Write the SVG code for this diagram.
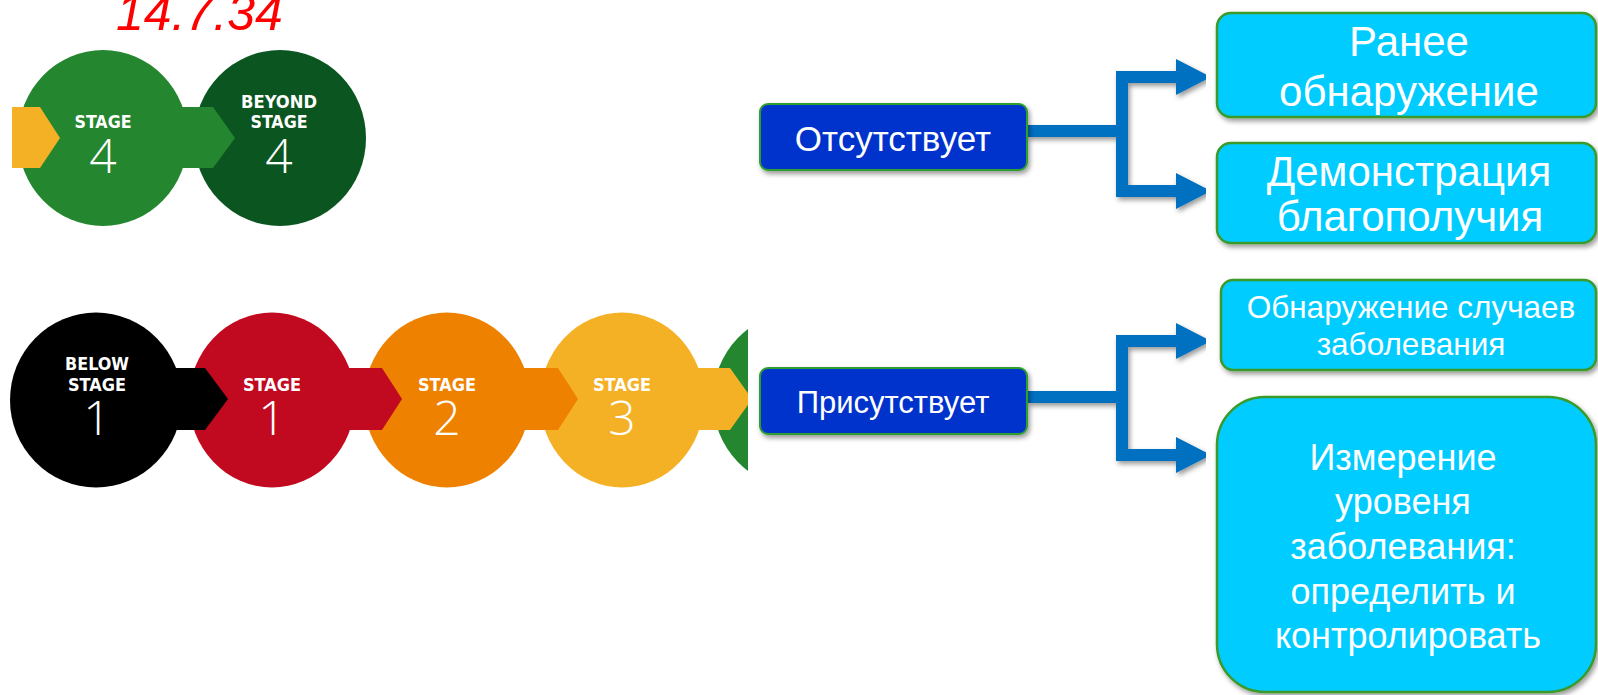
<svg xmlns="http://www.w3.org/2000/svg" width="1598" height="695" viewBox="0 0 1598 695">
<defs>
<style>
.lbl{font-family:"DejaVu Sans Condensed","DejaVu Sans",sans-serif;font-weight:bold;font-size:18px;fill:#fff;text-anchor:middle}
.num{font-family:"Open Sans","DejaVu Sans",sans-serif;font-weight:300;font-size:48px;fill:#fff;text-anchor:middle}
.dark{fill:#0033CC;stroke:#2E9E2E;stroke-width:2}
.light{fill:#00CCFF;stroke:#3A9A2A;stroke-width:2.5}
.t{font-family:"Liberation Sans",Arial,sans-serif;fill:#fff;text-anchor:middle}
.conn{fill:none;stroke:#0070C0;stroke-width:12;stroke-linejoin:miter}
</style>
<filter id="sh" x="-10%" y="-10%" width="130%" height="140%">
<feDropShadow dx="2" dy="3" stdDeviation="2.5" flood-color="#000" flood-opacity="0.4"/>
</filter>
<marker id="ah" markerUnits="userSpaceOnUse" markerWidth="36" markerHeight="36" refX="0" refY="18" orient="auto" viewBox="0 0 35 36">
<path d="M0,0 L35,18 L0,36 Z" fill="#0070C0"/>
</marker>
<clipPath id="clipBottom"><rect x="0" y="300" width="748" height="200"/></clipPath>
<clipPath id="clipTop"><rect x="12" y="40" width="360" height="200"/></clipPath>
</defs>
<rect width="1598" height="695" fill="#fff"/>

<text x="116" y="30" font-family="'Liberation Sans',Arial,sans-serif" font-style="italic" font-size="50" fill="#FF0000">14.7.34</text>

<g id="top-stages" clip-path="url(#clipTop)">
<ellipse cx="103" cy="138" rx="85" ry="88" fill="#24862F"/>
<ellipse cx="280" cy="138" rx="86" ry="88" fill="#0B5520"/>
<polygon points="0,107 40,107 60,138 40,168 0,168" fill="#F5B125"/>
<polygon points="180,107 213,107 235,138 213,168 180,168" fill="#24862F"/>
<text class="lbl" x="103" y="128" textLength="57" lengthAdjust="spacingAndGlyphs">STAGE</text>
<text class="num" x="103" y="173">4</text>
<text class="lbl" x="279" y="108" textLength="76" lengthAdjust="spacingAndGlyphs">BEYOND</text>
<text class="lbl" x="279" y="128" textLength="57" lengthAdjust="spacingAndGlyphs">STAGE</text>
<text class="num" x="279" y="173">4</text>
</g>

<g id="bottom-stages" clip-path="url(#clipBottom)">
<ellipse cx="96" cy="400" rx="86" ry="87.5" fill="#000"/>
<ellipse cx="272" cy="400" rx="83" ry="87.5" fill="#C10A1F"/>
<ellipse cx="447" cy="400" rx="83" ry="87.5" fill="#EE8200"/>
<ellipse cx="622" cy="400" rx="82" ry="87.5" fill="#F5B125"/>
<ellipse cx="797" cy="400" rx="84" ry="87.5" fill="#24862F"/>
<polygon points="170,368 205,368 228,399 205,430 170,430" fill="#000"/>
<polygon points="345,368 382,368 402,399 382,430 345,430" fill="#C10A1F"/>
<polygon points="520,368 558,368 578,399 558,430 520,430" fill="#EE8200"/>
<polygon points="695,368 730,368 752,399 730,430 695,430" fill="#F5B125"/>
<text class="lbl" x="97" y="370" textLength="64" lengthAdjust="spacingAndGlyphs">BELOW</text>
<text class="lbl" x="97" y="391" textLength="58" lengthAdjust="spacingAndGlyphs">STAGE</text>
<text class="num" x="97" y="435">1</text>
<text class="lbl" x="272" y="391" textLength="58" lengthAdjust="spacingAndGlyphs">STAGE</text>
<text class="num" x="272" y="435">1</text>
<text class="lbl" x="447" y="391" textLength="58" lengthAdjust="spacingAndGlyphs">STAGE</text>
<text class="num" x="447" y="435">2</text>
<text class="lbl" x="622" y="391" textLength="58" lengthAdjust="spacingAndGlyphs">STAGE</text>
<text class="num" x="622" y="435">3</text>
</g>

<g id="connectors" filter="url(#sh)">
<path class="conn" d="M1027,131 H1122"/>
<path class="conn" d="M1122,131 V77 H1176" marker-end="url(#ah)"/>
<path class="conn" d="M1122,131 V191 H1176" marker-end="url(#ah)"/>
<path class="conn" d="M1027,397 H1122"/>
<path class="conn" d="M1122,397 V341 H1176" marker-end="url(#ah)"/>
<path class="conn" d="M1122,397 V455 H1176" marker-end="url(#ah)"/>
</g>

<g id="node-absent">
<rect class="dark" x="760" y="104" width="267" height="66" rx="8" filter="url(#sh)"/>
<text class="t" x="893" y="151" font-size="35">Отсутствует</text>
</g>

<g id="node-present">
<rect class="dark" x="760" y="368" width="267" height="66" rx="8" filter="url(#sh)"/>
<text class="t" x="893" y="413" font-size="31">Присутствует</text>
</g>

<g id="node-early">
<rect class="light" x="1217" y="13" width="379" height="104" rx="14" filter="url(#sh)"/>
<text class="t" x="1409" y="56" font-size="42">Ранее</text>
<text class="t" x="1409" y="106" font-size="42">обнаружение</text>
</g>

<g id="node-demo">
<rect class="light" x="1217" y="143" width="379" height="100" rx="14" filter="url(#sh)"/>
<text class="t" x="1409" y="186" font-size="42">Демонстрация</text>
<text class="t" x="1410" y="231" font-size="42">благополучия</text>
</g>

<g id="node-cases">
<rect class="light" x="1221" y="280" width="375" height="90" rx="12" filter="url(#sh)"/>
<text class="t" x="1411" y="318" font-size="31.5">Обнаружение случаев</text>
<text class="t" x="1411" y="355" font-size="31.5">заболевания</text>
</g>

<g id="node-measure">
<rect class="light" x="1217" y="397" width="379" height="295" rx="48" filter="url(#sh)"/>
<text class="t" font-size="36">
<tspan x="1408" y="470">Измерение</tspan>
<tspan x="1408" y="514">уровеня</tspan>
<tspan x="1408" y="559">заболевания:</tspan>
<tspan x="1408" y="604">определить и</tspan>
<tspan x="1408" y="648">контролировать</tspan>
</text>
</g>
</svg>
